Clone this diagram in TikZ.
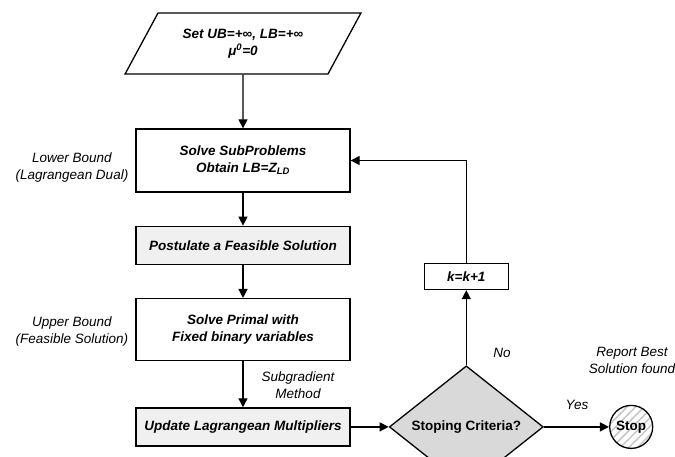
\documentclass[tikz,border=0pt]{standalone}
\usepackage{fontspec}
\setmainfont{Liberation Sans}
\usetikzlibrary{shapes.geometric,arrows.meta,positioning,patterns.meta}

\begin{document}
\begin{tikzpicture}[x=1pt, y=-1pt, font=\fontsize{13.5}{17}\selectfont,
  box/.style={draw, line width=1.3pt, align=center, minimum width=214pt, font=\fontsize{13.5}{17}\selectfont\bfseries\itshape},
  greybox/.style={box, fill=gray!12, minimum height=38pt},
  note/.style={align=center, font=\fontsize{13.5}{17}\selectfont\itshape},
  arr/.style={-{Triangle[length=9pt,width=9pt]}, line width=1.3pt}]
\useasboundingbox (0,0) rectangle (675,457);
\node[trapezium, draw, line width=1.3pt, trapezium left angle=55.5, trapezium right angle=124.5, trapezium stretches=true, minimum width=236pt, minimum height=61pt, align=center, font=\fontsize{13.5}{17}\selectfont\bfseries\itshape] (init) at (243,43.5) {Set UB=+∞, LB=+∞\\μ\textsuperscript{0}=0};
\node[box, minimum height=63pt] (sub) at (243,160.5) {Solve SubProblems\\Obtain LB=Z\textsubscript{LD}};
\node[greybox, below=33pt of sub] (post) {Postulate a Feasible Solution};
\node[box, minimum height=62pt, below=33pt of post] (primal) {Solve Primal with\\Fixed binary variables};
\node[greybox, below=46pt of primal] (upd) {Update Lagrangean Multipliers};
\node[diamond, draw, line width=1.3pt, fill=gray!30, minimum width=154pt, minimum height=76pt, inner sep=0pt, right=38pt of upd, font=\fontsize{13.5}{17}\selectfont\bfseries] (crit) {Stoping Criteria?};
\node[draw, line width=1.3pt, minimum width=84pt, minimum height=26pt, above=75pt of crit, font=\fontsize{13.5}{17}\selectfont\bfseries\itshape] (kinc) {k=k+1};
\node[circle, draw, line width=1.3pt, minimum size=43pt, inner sep=0pt, pattern={Lines[angle=45,distance=6pt,line width=1.5pt]}, pattern color=gray!45, right=65pt of crit, font=\fontsize{13.5}{17}\selectfont\bfseries] (stop) {Stop};
% side notes
\node[note] (lb) at (72,168) {Lower Bound\\(Lagrangean Dual)};
\node[note] (ub) at (72,332) {Upper Bound\\(Feasible Solution)};
\node[note] (sg) at (298,385) {Subgradient\\Method};
\node[note] (no) at (502,353) {No};
\node[note] (yes) at (577,405) {Yes};
\node[note] (rep) at (632,360) {Report Best\\Solution found};
% arrows
\draw[arr] (init.south) -- (sub.north);
\draw[arr] (sub) -- (post);
\draw[arr] (post) -- (primal);
\draw[arr] (primal) -- (upd);
\draw[arr] (upd) -- (crit);
\draw[arr] (crit) -- (kinc);
\draw[arr] (kinc.north) |- (sub.east);
\draw[arr] (crit) -- (stop);
\end{tikzpicture}
\end{document}
